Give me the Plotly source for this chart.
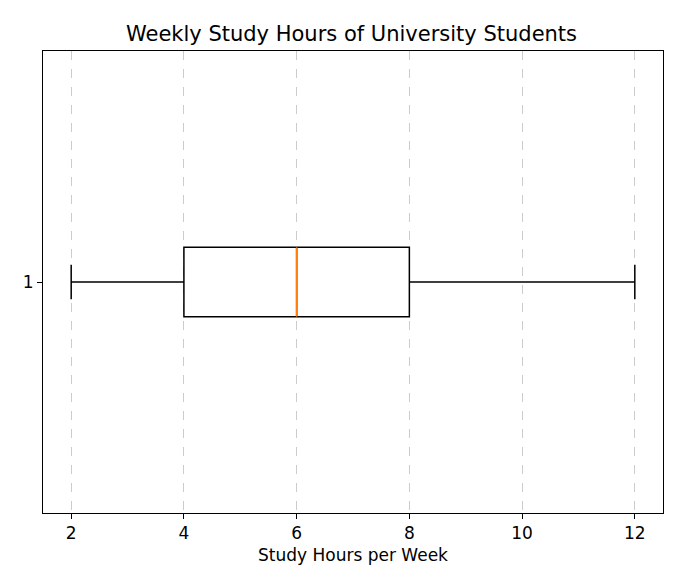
import plotly.graph_objects as go

category = ["1"]
position = [1]
lower_whisker = [2]
q1 = [4]
median = [6]
q3 = [8]
upper_whisker = [12]
x_ticks = [2, 4, 6, 8, 10, 12]

box_width = 0.15

fig = go.Figure()
fig.add_trace(go.Box(
    y=position, q1=q1, median=median, q3=q3,
    lowerfence=lower_whisker, upperfence=upper_whisker,
    orientation="h", width=box_width, whiskerwidth=0.5,
    fillcolor="rgba(0,0,0,0)", line=dict(color="black", width=1.5),
    boxpoints=False, hoverinfo="skip", showlegend=False,
))
fig.add_trace(go.Scatter(
    x=[median[0], median[0]],
    y=[position[0] - box_width / 2, position[0] + box_width / 2],
    mode="lines", line=dict(color="#ff7f0e", width=1.5),
    showlegend=False, hoverinfo="skip",
))

font = "DejaVu Sans"
fig.update_layout(
    width=687, height=571,
    margin=dict(l=35, r=32, t=43, b=66),
    plot_bgcolor="white", paper_bgcolor="white",
    font=dict(family=font, size=17, color="black"),
    title=dict(text="Weekly Study Hours of University Students",
               x=0.5, xanchor="center", y=1 - 26 / 571, yanchor="middle",
               font=dict(family=font, size=21, color="black")),
    xaxis=dict(range=[1.5, 12.5], tickvals=x_ticks, ticks="outside", ticklen=5,
               tickcolor="black", showline=True, linecolor="black", mirror=True,
               showgrid=True, gridcolor="#cccccc", griddash="dash", gridwidth=1,
               zeroline=False, tickfont=dict(size=17),
               title=dict(text="Study Hours per Week", standoff=6,
                          font=dict(family=font, size=17))),
    yaxis=dict(range=[0.5, 1.5], tickvals=position, ticktext=category,
               ticks="outside", ticklen=5, tickcolor="black", showline=True,
               linecolor="black", mirror=True, showgrid=False, zeroline=False,
               tickfont=dict(size=17)),
)
fig.write_html("out.html")
